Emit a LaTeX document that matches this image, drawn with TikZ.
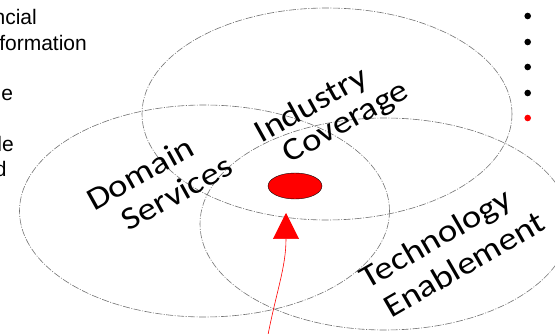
\documentclass[tikz,border=0pt]{standalone}
\usepackage{fontspec}
\setmainfont{Liberation Sans}
\newfontfamily\labelfont[FakeStretch=1.15]{Carlito}
\usepackage{tikz}
\usetikzlibrary{arrows.meta, positioning, shapes.geometric}

\begin{document}
\begin{tikzpicture}[
  x=1pt, y=-1pt,
  ring/.style={draw=black!55, ellipse, line width=0.6pt,
               dash pattern=on 7pt off 1.5pt on 1pt off 1.5pt,
               minimum width=370pt, minimum height=212pt, inner sep=0pt},
  core/.style={draw=black, ellipse, fill=red, line width=0.4pt,
               minimum width=54pt, minimum height=26pt, inner sep=0pt},
  lbl/.style={font=\labelfont\fontsize{32}{35}\selectfont, inner sep=0pt, rotate=29},
  sidetext/.style={font=\fontsize{21}{25}\selectfont, inner sep=0pt, anchor=base east},
  dot/.style={circle, fill=black, minimum size=6.6pt, inner sep=0pt},
  pointer/.style={-{Triangle[length=26pt, width=26pt]}, red, line width=0.6pt}
]
  \useasboundingbox (0,0) rectangle (555,334);

  % clipped text on the left
  \node[sidetext] (snip1) at (37,25) {ncial};
  \node[sidetext] (snip2) at (87,50.7) {formation};
  \node[sidetext] (snip3) at (13.3,101) {ne};
  \node[sidetext] (snip4) at (14,151.7) {le};
  \node[sidetext] (snip5) at (6.7,177) {d};

  % the three circles
  \node[ring] (industry) at (327,114) {};
  \node[ring] (domain) at (204.5,211) {};
  \node[ring] (tech) at (385,224) {};

  \node[lbl] (domainA) at (140,173.3) {Domain};
  \node[lbl] (domainB) at (176.7,192.7) {Services};
  \node[lbl] (industryA) at (311.7,106) {Industry};
  \node[lbl] (industryB) at (346.7,123.3) {Coverage};
  \node[lbl, rotate=1] (techA) at (436.7,240) {Technology};
  \node[lbl, rotate=1] (techB) at (464,264) {Enablement};

  % centre mark and arrow
  \node[core] (centre) at (295,186) {};
  \coordinate (tip) at (286,213);
  \coordinate (tail) at (267,340);
  \draw[pointer] (tail) .. controls (276,292) and (286,268) .. (tip);

  % bullets on the right
  \foreach \y/\c [count=\i] in {16/black, 42/black, 67/black, 93/black, 118/red}
    \node[dot, fill=\c] (bullet\i) at (527.7,\y) {};
\end{tikzpicture}
\end{document}
